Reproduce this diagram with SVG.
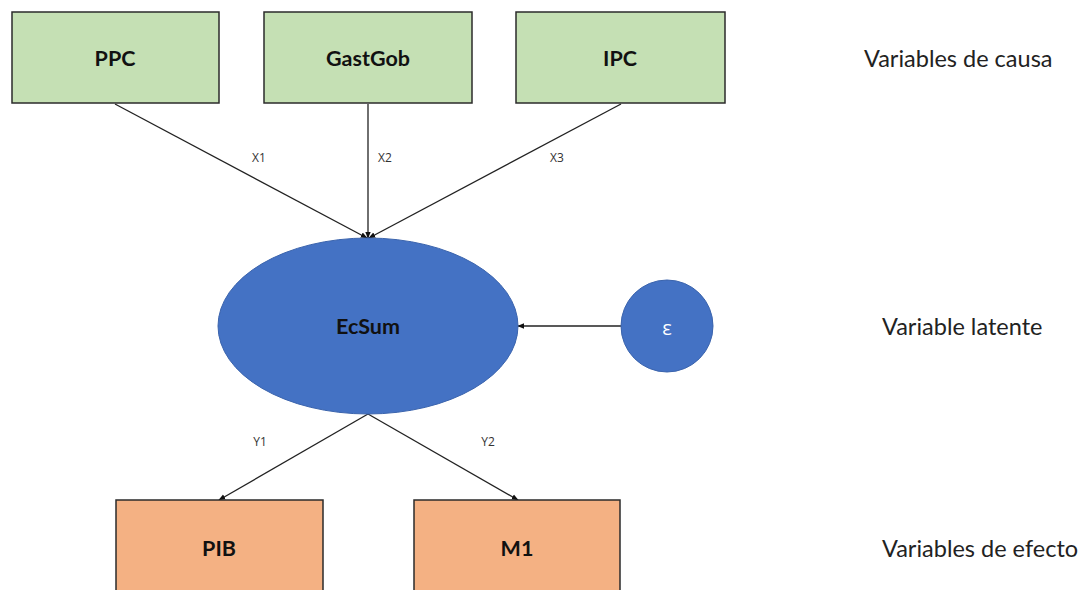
<svg xmlns="http://www.w3.org/2000/svg" width="1078" height="590" viewBox="0 0 1078 590">
<style>
.box{stroke:#2b2b2b;stroke-width:1.5}
.cause{fill:#C5E0B4}
.effect{fill:#F4B183}
.latent{fill:#4472C4;stroke:#3b64ad;stroke-width:1}
.lbl{font-family:Lato,"Open Sans",sans-serif;font-weight:bold;font-size:21.5px;fill:#111;text-anchor:middle;dominant-baseline:central}
.edge{stroke:#222;stroke-width:1.3;fill:none;marker-end:url(#ah)}
.el{font-family:"Open Sans",Lato,sans-serif;font-size:12px;fill:#333;text-anchor:middle;dominant-baseline:central}
.side{font-family:Lato,"Open Sans",sans-serif;font-size:23.5px;fill:#222;dominant-baseline:central}
</style>
<defs>
<marker id="ah" viewBox="0 0 10 10" refX="9" refY="5" markerWidth="7" markerHeight="7" orient="auto" markerUnits="userSpaceOnUse">
<path d="M0,1 L10,5 L0,9 z" fill="#111"/>
</marker>
</defs>
<rect width="1078" height="590" fill="#fff"/>
<g id="connectors">
<line class="edge" x1="115" y1="104" x2="367" y2="238"/>
<line class="edge" x1="368" y1="104" x2="368" y2="238"/>
<line class="edge" x1="621" y1="104" x2="369" y2="238"/>
<line class="edge" x1="621" y1="326" x2="518" y2="326"/>
<line class="edge" x1="368" y1="414" x2="219" y2="500"/>
<line class="edge" x1="368" y1="414" x2="518" y2="500"/>
<text class="el" x="259" y="157">X1</text>
<text class="el" x="385" y="157">X2</text>
<text class="el" x="557" y="157">X3</text>
<text class="el" x="260" y="441">Y1</text>
<text class="el" x="488" y="441">Y2</text>
</g>
<g id="PPC"><rect class="box cause" x="12" y="12" width="207" height="91"/><text class="lbl" x="115" y="58">PPC</text></g>
<g id="GastGob"><rect class="box cause" x="264" y="12" width="208" height="91"/><text class="lbl" x="368" y="58">GastGob</text></g>
<g id="IPC"><rect class="box cause" x="516" y="12" width="209" height="91"/><text class="lbl" x="620" y="58">IPC</text></g>
<g id="EcSum"><ellipse class="latent" cx="368" cy="326" rx="150" ry="88"/><text class="lbl" x="368" y="326">EcSum</text></g>
<g id="epsilon"><circle class="latent" cx="667" cy="326" r="46"/><text x="667" y="327" font-family="'Open Sans',sans-serif" font-size="20" fill="#fff" text-anchor="middle" dominant-baseline="central">ε</text></g>
<g id="PIB"><rect class="box effect" x="116" y="500" width="207" height="95"/><text class="lbl" x="219" y="548">PIB</text></g>
<g id="M1"><rect class="box effect" x="414" y="500" width="206" height="95"/><text class="lbl" x="517" y="548">M1</text></g>
<g id="side-labels">
<text class="side" x="864" y="58">Variables de causa</text>
<text class="side" x="882" y="326">Variable latente</text>
<text class="side" x="882" y="548">Variables de efecto</text>
</g>
</svg>
